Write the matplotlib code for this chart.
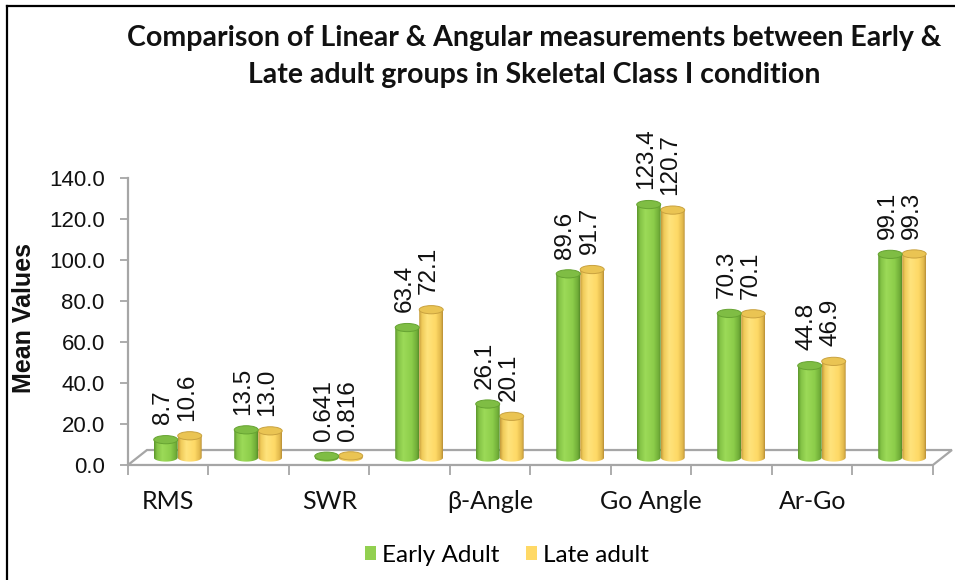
"""Early vs late adult cephalometric means, drawn as Excel-style 3-D cylinders."""

import matplotlib

matplotlib.use("Agg")
import matplotlib.pyplot as plt
import numpy as np
from matplotlib.colors import LinearSegmentedColormap
from matplotlib.lines import Line2D
from matplotlib.patches import Ellipse, Patch, Polygon


TITLE_LINES = [
    "Comparison of Linear & Angular measurements between Early &",
    "Late adult groups in Skeletal Class I condition",
]
CATEGORIES = ["RMS", "", "SWR", "", "β-Angle", "", "Go Angle", "", "Ar-Go", ""]
SERIES = ["Early Adult", "Late adult"]
EARLY = [8.7, 13.5, 0.641, 63.4, 26.1, 89.6, 123.4, 70.3, 44.8, 99.1]
LATE = [10.6, 13.0, 0.816, 72.1, 20.1, 91.7, 120.7, 70.1, 46.9, 99.3]
Y_TICKS = [0, 20, 40, 60, 80, 100, 120, 140]
Y_LABEL = "Mean Values"

CALIBRI_LIKE = ["Lato", "Liberation Sans", "DejaVu Sans"]
ARIAL = ["Liberation Sans", "DejaVu Sans"]
GRAY = "#a6a6a6"

# depth of the floor (category units, value units) and cylinder geometry
DEPTH_X, DEPTH_Y = 0.236, 7.3
BAR_W = 0.298
ELL_H = 4.0

GREEN = LinearSegmentedColormap.from_list(
    "green_cyl",
    [(0.0, "#5c972c"), (0.12, "#84c346"), (0.35, "#9cda58"), (0.7, "#8ccd4a"), (0.92, "#70ad38"), (1.0, "#578f29")],
)
YELLOW = LinearSegmentedColormap.from_list(
    "yellow_cyl",
    [(0.0, "#c49b3c"), (0.12, "#f0cb5a"), (0.35, "#ffe37c"), (0.7, "#fed966"), (0.92, "#e0b74b"), (1.0, "#b98f36")],
)


def fmt(v: float) -> str:
    return f"{v:.3f}" if v < 1 else f"{v:.1f}"


def cylinder(ax, x0, base, top, cmap, top_color, edge_color, z):
    xc = x0 + BAR_W / 2
    t = np.linspace(np.pi, 2 * np.pi, 40)
    arc = np.column_stack([xc + BAR_W / 2 * np.cos(t), base + ELL_H / 2 * np.sin(t)])
    verts = np.vstack([[x0, top], arc, [x0 + BAR_W, top], [x0, top]])
    clip = Polygon(verts, closed=True, facecolor="none", edgecolor="none", transform=ax.transData)
    ax.add_patch(clip)
    grad = np.linspace(0, 1, 64)[None, :]
    im = ax.imshow(grad, cmap=cmap, extent=(x0, x0 + BAR_W, base - ELL_H / 2, top),
                   aspect="auto", interpolation="bilinear", zorder=z)
    im.set_clip_path(clip)
    ax.add_patch(Ellipse((xc, top), BAR_W, ELL_H, facecolor=top_color, edgecolor=edge_color, lw=0.7, zorder=z + 0.1))
    return xc, top + ELL_H / 2


def main() -> None:
    fig = plt.figure(figsize=(9.55, 5.8), dpi=100)
    ax = fig.add_axes([0.134, 0.1983, 0.8429, 0.4948])
    ax.set_xlim(-0.5, 9.5)
    ax.set_ylim(0, 140)

    n = len(CATEGORIES)
    floor = Polygon(
        [(-0.5, 0), (n - 0.5, 0), (n - 0.5 + DEPTH_X, DEPTH_Y), (-0.5 + DEPTH_X, DEPTH_Y)],
        closed=True, facecolor="white", edgecolor=GRAY, lw=1.6, clip_on=False, zorder=1,
    )
    ax.add_patch(floor)

    base = DEPTH_Y / 2
    shift = DEPTH_X / 2
    for i in range(n):
        x_green = i + shift - BAR_W
        x_yellow = i + shift
        yc, ytop = cylinder(ax, x_yellow, base, base + LATE[i], YELLOW, "#eac453", "#c9a23f", 3)
        gc, gtop = cylinder(ax, x_green, base, base + EARLY[i], GREEN, "#7fbd44", "#66a332", 4)
        for xc, top, v in [(gc, gtop, EARLY[i]), (yc, ytop, LATE[i])]:
            ax.annotate(fmt(v), (xc, top), xytext=(-2, 8), textcoords="offset points",
                        rotation=90, ha="center", va="bottom", fontsize=17.5, family=ARIAL,
                        color="#111111", annotation_clip=False)

    for side in ["top", "right", "bottom"]:
        ax.spines[side].set_visible(False)
    ax.spines["left"].set_color(GRAY)
    ax.spines["left"].set_linewidth(1.6)

    ax.set_yticks(Y_TICKS)
    ax.set_yticklabels([f"{v:.1f}" for v in Y_TICKS], family=ARIAL, fontsize=16, color="#111111")
    ax.tick_params(axis="y", length=5.8, width=1.3, color=GRAY, pad=11)

    ax.set_xticks(range(n))
    ax.set_xticklabels(CATEGORIES, family=CALIBRI_LIKE, fontsize=18, color="#111111")
    ax.set_xticks(np.arange(-0.5, n, 1.0), minor=True)
    ax.tick_params(axis="x", which="major", length=0, pad=18)
    ax.tick_params(axis="x", which="minor", length=7.2, width=1.3, color=GRAY)

    fig.text(0.025, 0.452, Y_LABEL, rotation=90, ha="center", va="center",
             fontsize=18, fontweight="bold", family=ARIAL, color="#111111")
    for k, line in enumerate(TITLE_LINES):
        fig.text(0.559, 1 - (38 + 37 * k) / 580, line, ha="center", va="center",
                 fontsize=20.5, fontweight="bold", family=CALIBRI_LIKE, color="#111111")

    handles = [Patch(facecolor="#92d050", edgecolor="none"), Patch(facecolor="#ffd966", edgecolor="none")]
    fig.legend(handles, SERIES, loc="center", bbox_to_anchor=(507 / 955, 1 - 555 / 580), ncol=2,
               frameon=False, handlelength=0.45, handleheight=0.5, handletextpad=0.25,
               columnspacing=1.1, prop={"family": CALIBRI_LIKE, "size": 17.5})

    # frame lines of the original screenshot (left and top only)
    fig.add_artist(Line2D([7 / 955, 7 / 955], [0, 1 - 6 / 580], transform=fig.transFigure, color="black", lw=1.6))
    fig.add_artist(Line2D([7 / 955, 1], [1 - 6 / 580, 1 - 6 / 580], transform=fig.transFigure, color="black", lw=1.6))

    fig.savefig("out.png", dpi=100)


if __name__ == "__main__":
    main()
